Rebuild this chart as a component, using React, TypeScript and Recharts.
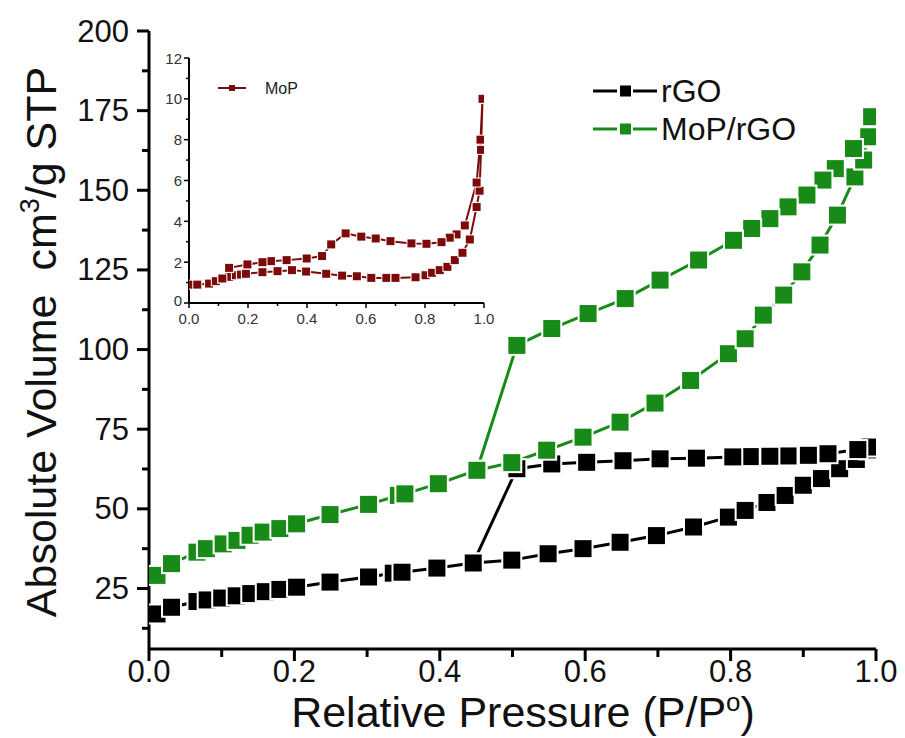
import React from 'react';
import { LineChart, Line, XAxis, YAxis } from 'recharts';

const FONT = '"Liberation Sans", Arial, Helvetica, sans-serif';

const BLACK = '#000000';
const GREEN = '#178a17';
const WINE = '#7d0a0a';

// ---- main chart data: rGO ----
const rgoAdsP = [0.011, 0.031, 0.066, 0.08, 0.1, 0.12, 0.14, 0.16, 0.18, 0.203, 0.249, 0.302, 0.336, 0.348, 0.396, 0.446, 0.499, 0.549, 0.597, 0.648, 0.698, 0.749, 0.797, 0.82, 0.85, 0.875, 0.9, 0.925, 0.95, 0.973, 0.99];
const rgoAdsV = [17.0, 19.1, 20.9, 21.4, 22.0, 22.7, 23.4, 24.0, 24.7, 25.4, 27.0, 28.6, 29.8, 30.1, 31.4, 33.0, 33.9, 35.9, 37.5, 39.5, 41.6, 44.3, 47.4, 49.5, 52.0, 54.2, 57.4, 59.5, 62.6, 65.5, 68.5];
const rgoDesP = [0.992, 0.975, 0.934, 0.907, 0.879, 0.854, 0.827, 0.803, 0.753, 0.703, 0.652, 0.602, 0.554, 0.506, 0.446];
const rgoDesV = [69.4, 68.6, 67.3, 66.8, 66.6, 66.5, 66.4, 66.3, 65.9, 65.7, 65.1, 64.6, 64.1, 62.6, 33.0];

// ---- main chart data: MoP/rGO ----
const mopRgoAdsP = [0.011, 0.031, 0.066, 0.079, 0.102, 0.121, 0.139, 0.157, 0.18, 0.203, 0.249, 0.302, 0.343, 0.352, 0.398, 0.451, 0.499, 0.547, 0.597, 0.648, 0.696, 0.745, 0.797, 0.82, 0.845, 0.873, 0.898, 0.923, 0.947, 0.971, 0.983, 0.988, 0.994];
const mopRgoAdsV = [29.1, 32.8, 36.4, 37.5, 39.0, 40.1, 41.7, 42.7, 43.8, 45.3, 48.2, 51.4, 54.2, 54.7, 57.9, 62.1, 64.5, 68.4, 72.5, 77.2, 83.2, 90.3, 98.7, 103.4, 110.8, 117.1, 124.4, 132.8, 142.2, 154.2, 159.5, 166.5, 173.1];
const mopRgoDesP = [0.994, 0.99, 0.969, 0.944, 0.927, 0.905, 0.879, 0.854, 0.829, 0.804, 0.756, 0.703, 0.655, 0.604, 0.554, 0.506, 0.451];
const mopRgoDesV = [173.1, 166.8, 163.1, 156.8, 153.2, 148.5, 144.8, 141.1, 138.0, 134.3, 128.1, 121.8, 116.0, 111.3, 106.6, 101.3, 62.1];

// ---- inset data: MoP ----
const mopAdsP = [0.006, 0.028, 0.068, 0.091, 0.113, 0.136, 0.159, 0.176, 0.193, 0.249, 0.30, 0.349, 0.397, 0.465, 0.519, 0.569, 0.618, 0.669, 0.70, 0.768, 0.802, 0.824, 0.85, 0.876, 0.901, 0.927, 0.952, 0.975, 0.985, 0.99, 0.995];
const mopAdsV = [0.9, 0.9, 0.95, 1.07, 1.2, 1.28, 1.36, 1.39, 1.43, 1.51, 1.56, 1.61, 1.54, 1.43, 1.34, 1.31, 1.23, 1.23, 1.23, 1.26, 1.36, 1.48, 1.61, 1.77, 2.1, 2.46, 3.11, 4.7, 5.5, 7.5, 10.0];
const mopDesP = [0.995, 0.988, 0.975, 0.935, 0.907, 0.884, 0.856, 0.805, 0.754, 0.683, 0.633, 0.584, 0.531, 0.482, 0.451, 0.399, 0.331, 0.278, 0.249, 0.198, 0.136, 0.113];
const mopDesV = [10.0, 8.0, 5.9, 3.8, 3.36, 3.2, 2.98, 2.9, 2.92, 3.03, 3.16, 3.25, 3.41, 2.87, 2.3, 2.18, 2.1, 2.05, 2.0, 1.89, 1.72, 1.2];

// ---- ticks ----
const mainXTicks = [0, 0.1, 0.2, 0.3, 0.4, 0.5, 0.6, 0.7, 0.8, 0.9, 1.0];
const mainYTicks = [12.5, 25, 37.5, 50, 62.5, 75, 87.5, 100, 112.5, 125, 137.5, 150, 162.5, 175, 187.5, 200];
const insetXTicks = [0, 0.1, 0.2, 0.3, 0.4, 0.5, 0.6, 0.7, 0.8, 0.9, 1.0];
const insetYTicks = [0, 1, 2, 3, 4, 5, 6, 7, 8, 9, 10, 11, 12];

const zip = (ps: number[], vs: number[]) => ps.map((p, i) => ({ p, v: vs[i] }));

const rgoData = [...zip(rgoAdsP, rgoAdsV), ...zip(rgoDesP, rgoDesV)];
const mopRgoData = [...zip(mopRgoAdsP, mopRgoAdsV), ...zip(mopRgoDesP, mopRgoDesV)];
const mopData = [...zip(mopAdsP, mopAdsV), ...zip(mopDesP, mopDesV)];

const makeSquare = (color: string, size: number, gap: number) => (props: any) => {
  const { cx, cy, index } = props;
  if (cx == null || cy == null) return <g key={`e${index}`} />;
  return (
    <g key={`d${index}`}>
      <rect x={cx - size / 2 - gap} y={cy - size / 2 - gap} width={size + 2 * gap} height={size + 2 * gap} fill="#ffffff" />
      <rect x={cx - size / 2} y={cy - size / 2} width={size} height={size} fill={color} />
    </g>
  );
};

const isMult = (v: number, step: number) => Math.abs(v / step - Math.round(v / step)) < 1e-6;

const MainXTick = (props: any) => {
  const { x, y, payload } = props;
  const v = payload.value as number;
  const major = isMult(v, 0.2);
  return (
    <g>
      <line x1={x} x2={x} y1={y} y2={y + (major ? 12 : 8)} stroke="#000" strokeWidth={3} />
      {major && (
        <text x={x} y={y + 22} textAnchor="middle" dominantBaseline="central" fontSize={31} fontFamily={FONT} fill="#111">
          {v.toFixed(1)}
        </text>
      )}
    </g>
  );
};

const MainYTick = (props: any) => {
  const { x, y, payload } = props;
  const v = payload.value as number;
  const major = isMult(v, 25);
  return (
    <g>
      <line x1={x} x2={x - (major ? 12 : 7)} y1={y} y2={y} stroke="#000" strokeWidth={3} />
      {major && (
        <text x={x - 20} y={y} textAnchor="end" dominantBaseline="central" fontSize={31} fontFamily={FONT} fill="#111">
          {v}
        </text>
      )}
    </g>
  );
};

const InsetXTick = (props: any) => {
  const { x, y, payload } = props;
  const v = payload.value as number;
  const major = isMult(v, 0.2);
  return (
    <g>
      <line x1={x} x2={x} y1={y} y2={y + (major ? 5 : 3)} stroke="#000" strokeWidth={1.5} />
      {major && (
        <text x={x} y={y + 15} textAnchor="middle" dominantBaseline="central" fontSize={15} fontFamily={FONT} fill="#333">
          {v.toFixed(1)}
        </text>
      )}
    </g>
  );
};

const InsetYTick = (props: any) => {
  const { x, y, payload } = props;
  const v = payload.value as number;
  const major = isMult(v, 2);
  return (
    <g>
      <line x1={x} x2={x - (major ? 5 : 3)} y1={y} y2={y} stroke="#000" strokeWidth={1.5} />
      {major && (
        <text x={x - 7} y={v === 0 ? y - 3 : y} textAnchor="end" dominantBaseline="central" fontSize={15} fontFamily={FONT} fill="#333">
          {v}
        </text>
      )}
    </g>
  );
};

const LegendRow = ({ y, color, label }: { y: number; color: string; label: string }) => (
  <g>
    <line x1={593} x2={617} y1={y} y2={y} stroke={color} strokeWidth={3} />
    <line x1={633} x2={657} y1={y} y2={y} stroke={color} strokeWidth={3} />
    <rect x={620} y={y - 5.5} width={11} height={11} fill={color} />
    <text x={661} y={y} dominantBaseline="central" fontSize={32} fontFamily={FONT} fill="#111">
      {label}
    </text>
  </g>
);

export default function App() {
  return (
    <div style={{ position: 'absolute', left: 0, top: 0, width: 905, height: 738, background: '#fff' }}>
      <div style={{ position: 'absolute', left: 0, top: 0 }}>
        <LineChart width={905} height={738} margin={{ top: 31, right: 29, bottom: 0, left: 0 }}>
          <XAxis
            dataKey="p"
            type="number"
            domain={[0, 1]}
            ticks={mainXTicks}
            interval={0}
            allowDataOverflow
            height={89}
            tickSize={0}
            tickMargin={0}
            tickLine={false}
            tick={<MainXTick />}
            axisLine={{ stroke: '#000', strokeWidth: 3 }}
          />
          <XAxis xAxisId="top" orientation="top" dataKey="p" type="number" domain={[0, 1]} height={0} tick={false} tickLine={false} axisLine={{ stroke: '#000', strokeWidth: 3 }} />
          <YAxis
            type="number"
            domain={[6, 200]}
            ticks={mainYTicks}
            interval={0}
            allowDataOverflow
            width={149}
            tickSize={0}
            tickMargin={0}
            tickLine={false}
            tick={<MainYTick />}
            axisLine={{ stroke: '#000', strokeWidth: 3 }}
          />
          <YAxis yAxisId="right" orientation="right" type="number" domain={[6, 200]} width={0} tick={false} tickLine={false} axisLine={{ stroke: '#000', strokeWidth: 3 }} />
          <Line data={rgoData} dataKey="v" stroke={BLACK} strokeWidth={3} dot={makeSquare(BLACK, 17, 2)} activeDot={false} isAnimationActive={false} />
          <Line data={mopRgoData} dataKey="v" stroke={GREEN} strokeWidth={3} dot={makeSquare(GREEN, 17, 2)} activeDot={false} isAnimationActive={false} />
        </LineChart>
      </div>

      <div style={{ position: 'absolute', left: 130, top: 40 }}>
        <LineChart width={365} height={300} margin={{ top: 18, right: 11, bottom: 0, left: 0 }}>
          <XAxis
            dataKey="p"
            type="number"
            domain={[0, 1]}
            ticks={insetXTicks}
            interval={0}
            allowDataOverflow
            height={37}
            tickSize={0}
            tickMargin={0}
            tickLine={false}
            tick={<InsetXTick />}
            axisLine={{ stroke: '#000', strokeWidth: 2 }}
          />
          <XAxis xAxisId="top" orientation="top" dataKey="p" type="number" domain={[0, 1]} height={0} tick={false} tickLine={false} axisLine={{ stroke: '#000', strokeWidth: 2 }} />
          <YAxis
            type="number"
            domain={[0, 12]}
            ticks={insetYTicks}
            interval={0}
            allowDataOverflow
            width={59}
            tickSize={0}
            tickMargin={0}
            tickLine={false}
            tick={<InsetYTick />}
            axisLine={{ stroke: '#000', strokeWidth: 2 }}
          />
          <YAxis yAxisId="right" orientation="right" type="number" domain={[0, 12]} width={0} tick={false} tickLine={false} axisLine={{ stroke: '#000', strokeWidth: 2 }} />
          <Line data={mopData} dataKey="v" stroke={WINE} strokeWidth={2} dot={makeSquare(WINE, 8, 1)} activeDot={false} isAnimationActive={false} />
        </LineChart>
      </div>

      <svg width={905} height={738} style={{ position: 'absolute', left: 0, top: 0, pointerEvents: 'none' }}>
        {/* inset legend */}
        <line x1={218} x2={229} y1={88} y2={88} stroke={WINE} strokeWidth={2} />
        <line x1={235} x2={246} y1={88} y2={88} stroke={WINE} strokeWidth={2} />
        <rect x={229} y={85} width={6} height={6} fill={WINE} />
        <text x={265} y={88} dominantBaseline="central" fontSize={16} fontFamily={FONT} fill="#222">MoP</text>

        {/* main legend */}
        <LegendRow y={91} color={BLACK} label="rGO" />
        <LegendRow y={129} color={GREEN} label="MoP/rGO" />

        {/* axis titles */}
        <text x={523} y={727} textAnchor="middle" fontSize={43} fontFamily={FONT} fill="#111">
          Relative Pressure (P/P<tspan dy={-16} fontSize={26}>o</tspan><tspan dy={16}>)</tspan>
        </text>
        <text transform="translate(56, 342) rotate(-90)" textAnchor="middle" fontSize={43} fontFamily={FONT} fill="#111">
          Absolute Volume{'\u00a0\u00a0'}cm<tspan dy={-17} fontSize={27}>3</tspan><tspan dy={17}>/g STP</tspan>
        </text>
      </svg>
    </div>
  );
}
